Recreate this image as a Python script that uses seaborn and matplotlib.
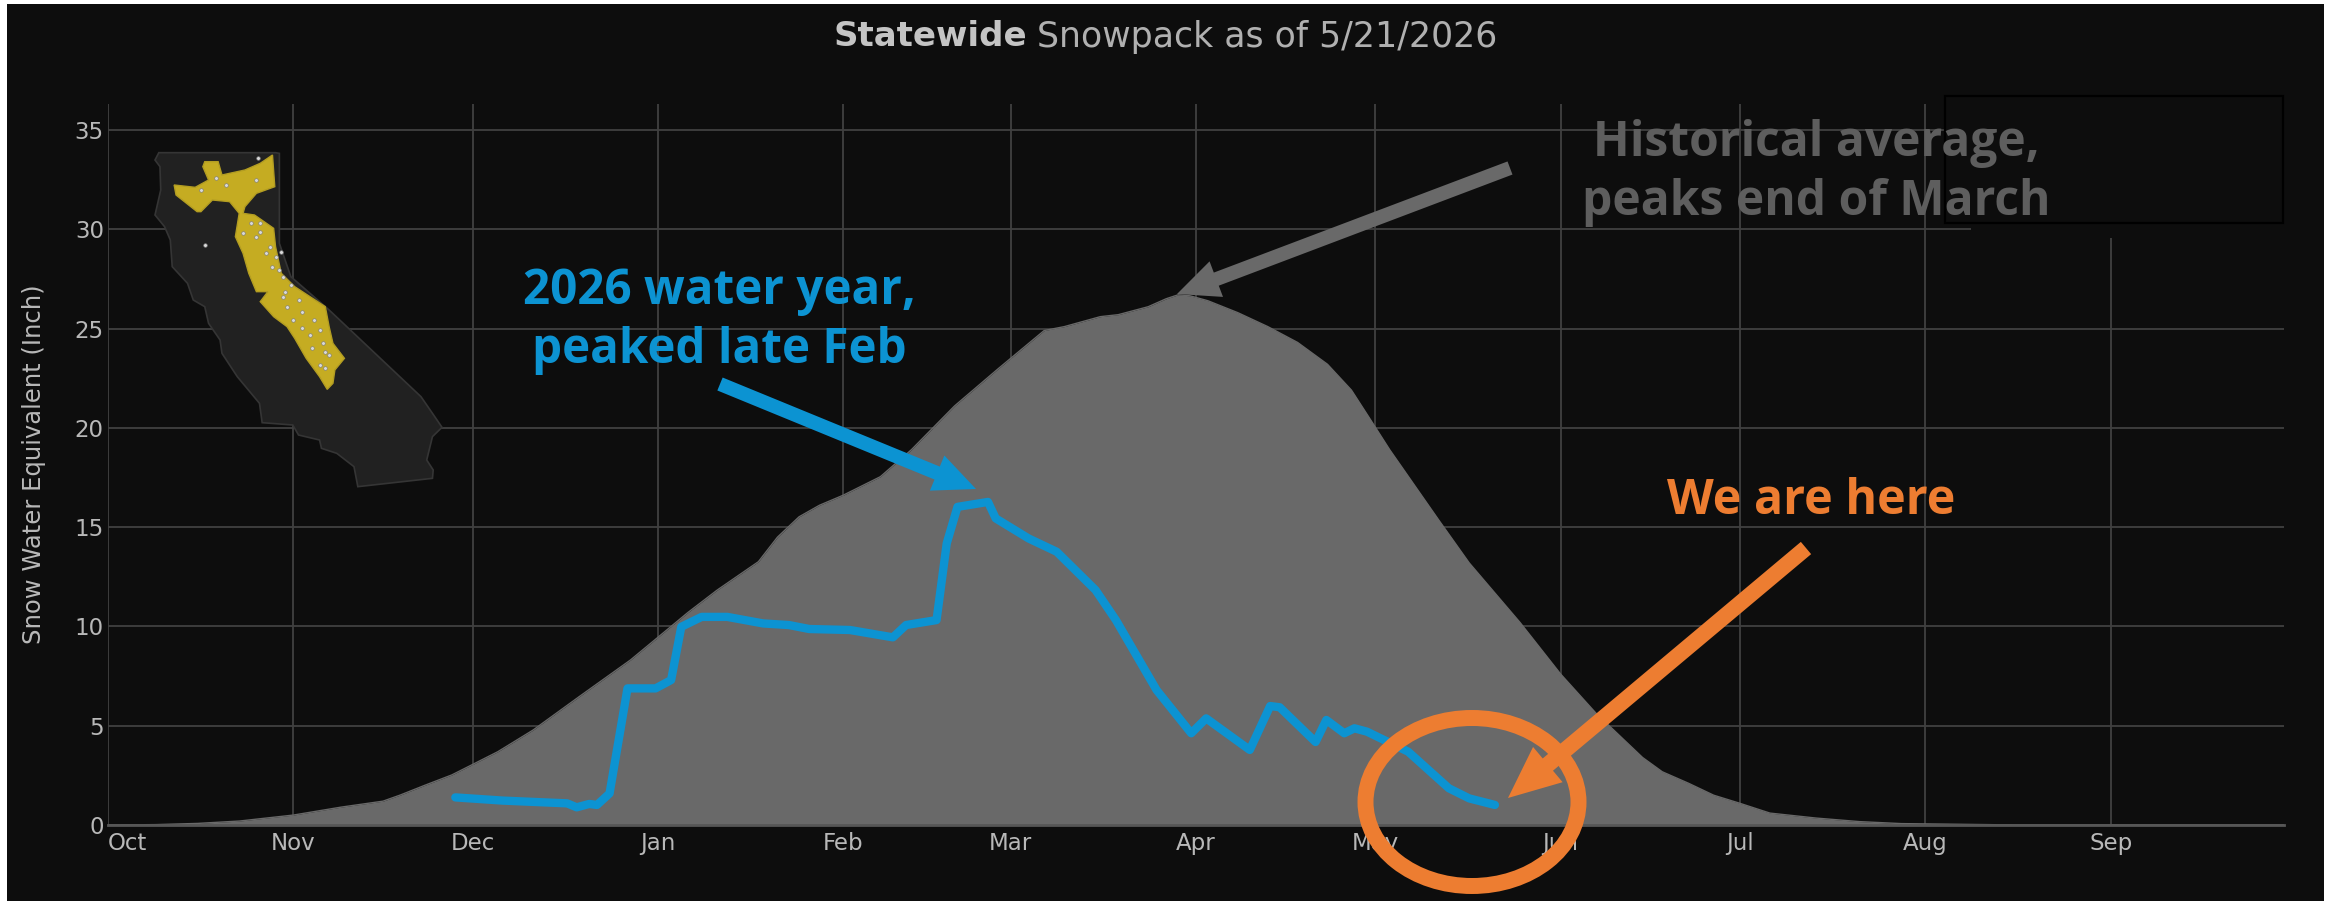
import matplotlib
matplotlib.use("Agg")
import matplotlib.pyplot as plt
import matplotlib.patches as mp
import numpy as np
import pandas as pd
import seaborn as sns

W, H = 2336, 901
BG = "#0d0d0d"
GRID = "#404040"
AREA = "#696969"
BLUE = "#0c93d2"
ORANGE = "#ed7d31"
TICK = "#b8b8b8"

month_days = [0, 31, 61, 92, 123, 151, 182, 212, 243, 273, 304, 335]
month_labels = ["Oct", "Nov", "Dec", "Jan", "Feb", "Mar", "Apr", "May", "Jun", "Jul", "Aug", "Sep"]
y_ticks = [0, 5, 10, 15, 20, 25, 30, 35]

hist_day = [0, 8, 15, 22, 31, 39, 46, 48.9, 53, 57.5, 61, 65.2, 71.1, 78.8, 87.4, 92.1, 97, 101.9, 108.8, 112,
            115.6, 119, 123, 129.2, 134.4, 141.6, 149, 156.6, 160, 163, 166, 169, 174, 177, 179, 181, 184, 189, 194, 199,
            204, 208, 211, 214.4, 222.6, 227.7, 236.2, 243, 249, 251.6, 256.7, 260, 264.4, 268.6, 272.9, 278, 285.7,
            293, 300, 320, 364]
hist_swe = [0, 0.02, 0.08, 0.2, 0.5, 0.9, 1.2, 1.51, 2.0, 2.52, 3.05, 3.69, 4.78, 6.46, 8.31, 9.48, 10.7, 11.83, 13.26, 14.5,
            15.52, 16.1, 16.61, 17.54, 18.9, 21.1, 23.0, 24.9, 25.1, 25.35, 25.6, 25.7, 26.1, 26.5, 26.7, 26.65, 26.4, 25.8, 25.1, 24.3,
            23.2, 21.9, 20.5, 18.9, 15.36, 13.2, 10.2, 7.6, 5.6, 4.86, 3.4, 2.68, 2.1, 1.5, 1.1, 0.6, 0.35,
            0.17, 0.07, 0.0, 0.0]

wy_day = [58.1, 66.0, 76.8, 78.4, 80.5, 81.8, 83.9, 86.9, 91.6, 94.2, 95.9, 99.3, 103.6, 109.6, 113.9,
          117.3, 124.1, 131.3, 133.5, 138.6, 140.3, 142.1, 147.2, 148.5, 154, 158.7, 165.2, 168.6, 175.4,
          181.2, 183.7, 191, 194.4, 196, 202, 203.8, 206.8, 208.5, 210.6, 217.5, 224.3, 227.7, 232]
wy_swe = [1.39, 1.23, 1.09, 0.89, 1.06, 1.01, 1.59, 6.88, 6.88, 7.30, 9.98, 10.48, 10.48, 10.15, 10.07,
          9.87, 9.82, 9.45, 10.07, 10.32, 14.18, 16.02, 16.27, 15.44, 14.43, 13.76, 11.83, 10.32, 6.80,
          4.62, 5.37, 3.78, 5.99, 5.93, 4.18, 5.29, 4.62, 4.87, 4.70, 3.69, 1.85, 1.34, 1.01]

state_outline = [(415,158),(720,158),(730,160),(730,430),(760,530),(860,630),(1100,890),(1130,940),
    (1155,982),(1130,1010),(1115,1080),(1132,1110),(1130,1135),(935,1160),(925,1100),(880,1060),(840,1045),
    (835,1020),(780,1005),(765,975),(685,968),(678,910),(620,830),(580,760),(575,720),(545,670),(535,620),
    (505,600),(490,550),(450,500),(445,420),(430,380),(405,345),(420,270),(418,200),(405,180)]
snow_region = [(535,185),(570,185),(580,225),(640,210),(680,190),(712,165),(718,260),(670,280),(640,320),
    (635,340),(665,345),(715,385),(720,440),(735,520),(770,560),(850,620),(860,680),(870,730),(900,775),
    (875,810),(870,850),(855,868),(835,830),(800,775),(770,715),(750,680),(715,650),(680,605),(700,575),
    (670,575),(650,520),(635,460),(615,410),(625,340),(600,305),(555,300),(525,335),(515,335),(460,285),
    (455,255),(510,262),(545,240),(530,200)]
stations = [(535,436),(655,370),(680,368),(635,400),(670,410),(680,395),(705,440),(695,460),(720,470),(735,455),
    (710,500),(730,510),(740,530),(760,555),(745,575),(740,590),(780,600),(750,620),(790,635),(765,660),(820,660),
    (790,685),(835,690),(810,705),(845,730),(815,745),(850,755),(860,765),(835,795),(850,805),(565,235),(590,255),
    (525,270),(670,240),(675,175)]

sns.set_theme(style="dark")
plt.rcParams["font.family"] = ["DejaVu Sans"]

fig = plt.figure(figsize=(W / 100, H / 100), dpi=100, facecolor="white")
fig.add_artist(mp.Rectangle((7 / W, 0), (2324 - 7) / W, (H - 4) / H, transform=fig.transFigure,
                            facecolor=BG, edgecolor="none", zorder=-5))

L, R, T, B = 108, 2284, 104, 825
ax = fig.add_axes([L / W, 1 - B / H, (R - L) / W, (B - T) / H], facecolor="none", zorder=1)

hist = pd.DataFrame({"day": hist_day, "swe": hist_swe})
wy = pd.DataFrame({"day": wy_day, "swe": wy_swe})

ax.fill_between(hist["day"], 0, hist["swe"], color=AREA, linewidth=0, zorder=2)
sns.lineplot(data=hist, x="day", y="swe", color=AREA, linewidth=1, estimator=None, sort=False, ax=ax, zorder=2)
sns.lineplot(data=wy, x="day", y="swe", color=BLUE, linewidth=6, estimator=None, sort=False, ax=ax, zorder=3)

ax.set_xlim(0, 364)
ax.set_ylim(0, (B - T) / ((825 - 130) / 35))
ax.set_xticks(month_days)
ax.set_xticklabels(month_labels)
ax.set_yticks(y_ticks)
ax.grid(True, color=GRID, linewidth=1.3, zorder=0)
ax.set_axisbelow(True)
for side in ["top", "right", "left"]:
    ax.spines[side].set_visible(False)
ax.spines["bottom"].set_color("#565656")
ax.spines["bottom"].set_linewidth(2)
ax.tick_params(axis="both", length=0, labelsize=16.5, colors=TICK)
ax.tick_params(axis="x", pad=5)
ax.tick_params(axis="y", pad=3)
ax.get_xticklabels()[0].set_ha("left")
ax.set_xlabel("")
ax.set_ylabel("Snow Water Equivalent (Inch)", fontsize=17.5, color=TICK)
ax.yaxis.set_label_coords((46 - L) / (R - L), (825 - 464) / (B - T))

# overlay in image pixels for the annotations pasted over the chart
ov = fig.add_axes([0, 0, 1, 1], facecolor="none", zorder=5)
ov.set_xlim(0, W)
ov.set_ylim(H, 0)
ov.axis("off")

def m(p):
    return [(x / 2.613, y / 3 + 100) for x, y in p]

ov.add_patch(mp.Polygon(m(state_outline), closed=True, facecolor="#212121", edgecolor="#353535", linewidth=1.2))
ov.add_patch(mp.Polygon(m(snow_region), closed=True, facecolor="#c5ac22", edgecolor="#b39d22", linewidth=1))
pts = np.array(m(stations))
ov.scatter(pts[:, 0], pts[:, 1], s=7, color="#d8d8d8", edgecolors="#777777", linewidths=0.4)

ov.add_patch(mp.Rectangle((1971, 90), 2324 - 1971, 148, facecolor=BG, edgecolor="none"))
ov.add_patch(mp.Rectangle((1945, 96), 338, 127, facecolor=BG, edgecolor="#000000", linewidth=1.6))

def arrow(start, tip, color, tail, hw, hl):
    style = f"simple,tail_width={tail * .72},head_width={hw * .72},head_length={hl * .72}"
    ov.add_patch(mp.FancyArrowPatch(start, tip, arrowstyle=style, mutation_scale=1, color=color,
                                    linewidth=0, shrinkA=0, shrinkB=0))

arrow((720, 384), (976, 489), BLUE, 14, 38, 42)
arrow((1510, 168), (1177, 294), AREA, 14, 38, 42)
arrow((1806, 548), (1508, 798), ORANGE, 16, 46, 52)

ov.add_patch(mp.Ellipse((1472, 802), 213, 168, facecolor="none", edgecolor=ORANGE, linewidth=11.5))

note = dict(family="Open Sans", fontweight="bold", ha="center", va="center", linespacing=1.27)
ov.text(719, 321, "2026 water year,\npeaked late Feb", color=BLUE, fontsize=34.3, **note)
ov.text(1816, 173, "Historical average,\npeaks end of March", color="#5e5e5e", fontsize=34.6, **note)
ov.text(1811, 501, "We are here", color=ORANGE, fontsize=34.8, **note)

ov.text(833, 37, "Statewide", color="#c4c4c4", fontsize=24.5, fontweight="bold", ha="left", va="center")
ov.text(1037, 37, "Snowpack as of 5/21/2026", color="#b0b0b0", fontsize=25, ha="left", va="center")

fig.savefig("out.png", dpi=100, facecolor=fig.get_facecolor())
